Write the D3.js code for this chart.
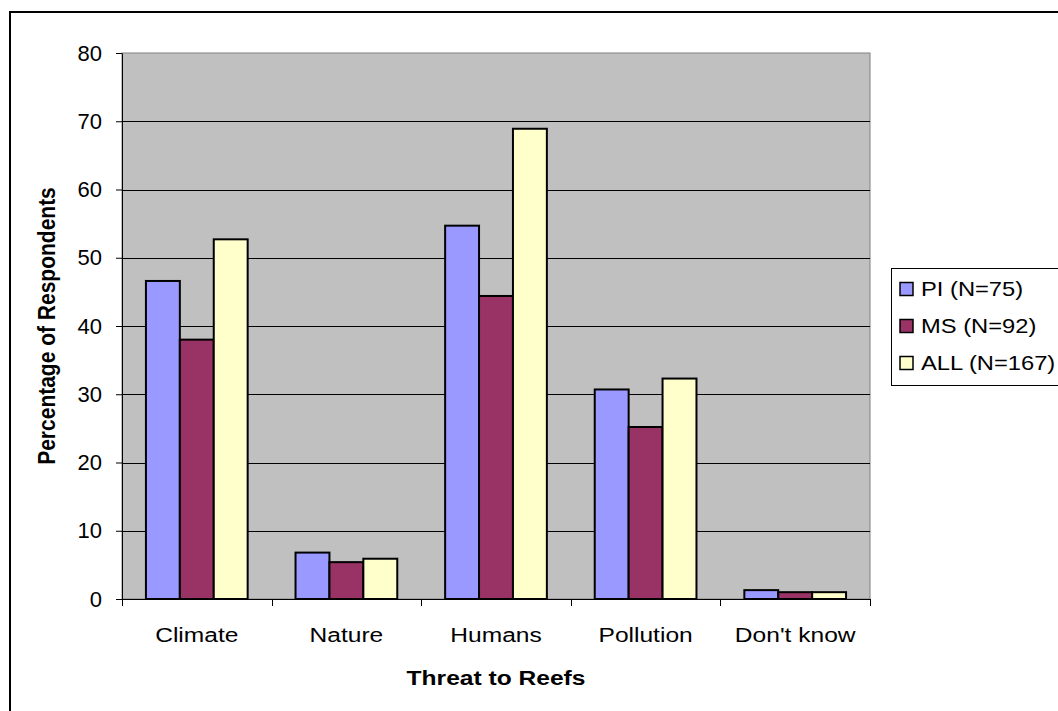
<!DOCTYPE html>
<html>
<head>
<meta charset="utf-8">
<script src="https://cdn.jsdelivr.net/npm/d3@7"></script>
<style>
  html, body { margin: 0; padding: 0; background: #fff; }
  svg { display: block; font-family: "Liberation Sans", Arial, sans-serif; }
</style>
</head>
<body>
<svg id="chart" width="1058" height="711"></svg>
<script>
// Survey results: perceived threats to coral reefs
const categories = ["Climate", "Nature", "Humans", "Pollution", "Don't know"];
const seriesNames = ["PI (N=75)", "MS (N=92)", "ALL (N=167)"];
const piValues  = [46.6, 6.8, 54.7, 30.7, 1.3];
const msValues  = [38.0, 5.4, 44.4, 25.2, 1.0];
const allValues = [52.7, 5.9, 68.9, 32.3, 1.0];
const seriesColors = ["#9999FF", "#993366", "#FFFFCC"];
const yTicks = [0, 10, 20, 30, 40, 50, 60, 70, 80];

const series = [piValues, msValues, allValues];
const rows = categories.map((c, i) => ({
  category: c,
  values: series.map((s, k) => ({ key: k, value: s[i] }))
}));

const FONT = "Liberation Sans, Arial, sans-serif";
const WIDE = 1.17;        // horizontal widening of the label type
const WIDE_LEGEND = 1.13;

const svg = d3.select("#chart");
const plot = { left: 122, top: 53, right: 870, bottom: 599 };

// Outer chart frame
svg.append("rect")
  .attr("x", 10).attr("y", 12)
  .attr("width", 1100).attr("height", 800)
  .attr("fill", "#fff").attr("stroke", "#000").attr("stroke-width", 2);

const x0 = d3.scaleBand().domain(categories)
  .range([plot.left, plot.right]).paddingInner(0.32).paddingOuter(0.16);
const x1 = d3.scaleBand().domain([0, 1, 2]).range([0, x0.bandwidth()]);
const y = d3.scaleLinear().domain([0, 80]).range([plot.bottom, plot.top]);

// Plot background
svg.append("rect")
  .attr("x", plot.left).attr("y", plot.top)
  .attr("width", plot.right - plot.left).attr("height", plot.bottom - plot.top)
  .attr("fill", "#C0C0C0").attr("stroke", "#808080").attr("stroke-width", 1);

// Horizontal gridlines
svg.append("g").selectAll("line")
  .data(yTicks.filter(t => t > 0 && t < 80))
  .join("line")
  .attr("x1", plot.left).attr("x2", plot.right)
  .attr("y1", d => Math.round(y(d)) + 0.5).attr("y2", d => Math.round(y(d)) + 0.5)
  .attr("stroke", "#000").attr("stroke-width", 1);

// Bars
const groups = svg.append("g").selectAll("g")
  .data(rows).join("g")
  .attr("transform", d => `translate(${x0(d.category)},0)`);
groups.selectAll("rect")
  .data(d => d.values).join("rect")
  .attr("x", d => x1(d.key))
  .attr("y", d => y(d.value))
  .attr("width", x1.bandwidth())
  .attr("height", d => y(0) - y(d.value))
  .attr("fill", d => seriesColors[d.key])
  .attr("stroke", "#000").attr("stroke-width", 2);

// Y axis
const yAxis = svg.append("g")
  .attr("transform", `translate(${plot.left},0)`)
  .call(d3.axisLeft(y).tickValues(yTicks).tickSize(6).tickPadding(14).tickSizeOuter(0));
yAxis.select(".domain").attr("stroke", "#000");
yAxis.selectAll(".tick line").attr("stroke", "#000");
yAxis.selectAll(".tick text")
  .attr("font-size", 22).attr("fill", "#000")
  .attr("font-family", FONT);

// X axis with category boundary ticks
const xAxisG = svg.append("g").attr("transform", `translate(0,${plot.bottom})`);
xAxisG.append("line")
  .attr("x1", plot.left).attr("x2", plot.right)
  .attr("y1", 0.5).attr("y2", 0.5).attr("stroke", "#000");
const step = x0.step();
const boundaries = d3.range(categories.length + 1).map(i => plot.left + i * step);
xAxisG.selectAll("line.bt").data(boundaries).join("line")
  .attr("class", "bt")
  .attr("x1", d => Math.round(d) + 0.5).attr("x2", d => Math.round(d) + 0.5)
  .attr("y1", 0).attr("y2", 7).attr("stroke", "#000");
xAxisG.selectAll("text").data(categories).join("text")
  .attr("transform", d => `translate(${x0(d) + x0.bandwidth() / 2},43) scale(${WIDE},1)`)
  .attr("text-anchor", "middle")
  .attr("font-size", 21)
  .text(d => d);

// Axis titles
svg.append("text")
  .attr("transform", `translate(55,${(plot.top + plot.bottom) / 2}) scale(${WIDE},1) rotate(-90)`)
  .attr("text-anchor", "middle")
  .attr("font-size", 21).attr("font-weight", "bold")
  .text("Percentage of Respondents");
svg.append("text")
  .attr("transform", `translate(${(plot.left + plot.right) / 2},685) scale(${WIDE},1)`)
  .attr("text-anchor", "middle")
  .attr("font-size", 21).attr("font-weight", "bold")
  .text("Threat to Reefs");

// Legend
const legend = svg.append("g").attr("transform", "translate(891,268)");
legend.append("rect")
  .attr("x", 0.5).attr("y", 0.5).attr("width", 250).attr("height", 117)
  .attr("fill", "#fff").attr("stroke", "#000").attr("stroke-width", 1);
const items = legend.selectAll("g.item").data(seriesNames).join("g")
  .attr("class", "item")
  .attr("transform", (d, i) => `translate(0,${21 + i * 37})`);
items.append("rect")
  .attr("x", 9).attr("y", -6.5).attr("width", 13).attr("height", 13)
  .attr("fill", (d, i) => seriesColors[i])
  .attr("stroke", "#000").attr("stroke-width", 1.5);
items.append("text")
  .attr("transform", `translate(30,0) scale(${WIDE_LEGEND},1)`)
  .attr("dy", "0.35em")
  .attr("font-size", 21)
  .text(d => d);
</script>
</body>
</html>
